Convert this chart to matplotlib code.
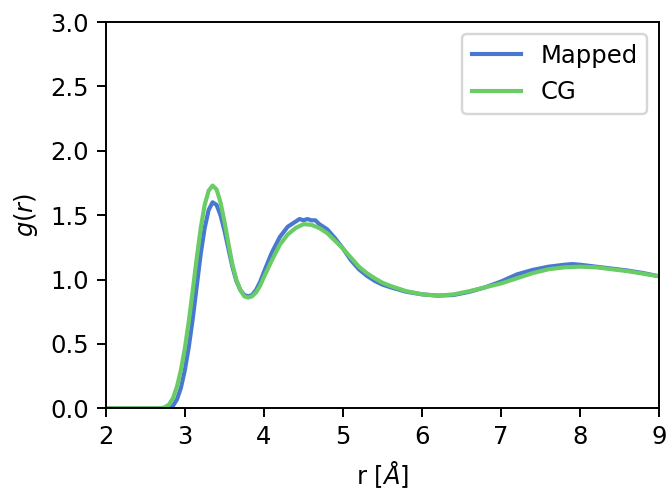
import matplotlib
matplotlib.use("Agg")
import matplotlib.pyplot as plt

# radial distribution functions
r_mapped = [2.0, 2.5, 2.8, 2.85, 2.9, 2.95, 3.0, 3.05, 3.1, 3.15, 3.2, 3.25, 3.3, 3.35,
            3.4, 3.45, 3.5, 3.55, 3.6, 3.65, 3.7, 3.75, 3.8, 3.85, 3.9, 3.95, 4.0,
            4.1, 4.2, 4.3, 4.4, 4.45, 4.5, 4.55, 4.6, 4.65, 4.7, 4.8, 4.9, 5.0, 5.1,
            5.2, 5.3, 5.4, 5.5, 5.6, 5.8, 6.0, 6.2, 6.4, 6.6, 6.8, 7.0, 7.2, 7.4,
            7.6, 7.8, 7.9, 8.0, 8.2, 8.4, 8.6, 8.8, 9.0]
g_mapped = [0.0, 0.0, 0.0, 0.02, 0.07, 0.16, 0.30, 0.48, 0.70, 0.95, 1.20, 1.40, 1.54, 1.60,
            1.58, 1.50, 1.38, 1.24, 1.10, 0.99, 0.92, 0.88, 0.87, 0.88, 0.92, 0.98, 1.06,
            1.21, 1.33, 1.41, 1.45, 1.47, 1.46, 1.47, 1.46, 1.46, 1.43, 1.39, 1.32, 1.24, 1.15,
            1.08, 1.03, 0.99, 0.96, 0.94, 0.905, 0.885, 0.875, 0.88, 0.905, 0.94, 0.985, 1.04, 1.075,
            1.10, 1.115, 1.12, 1.115, 1.10, 1.085, 1.07, 1.05, 1.025]

r_cg = [2.0, 2.7, 2.75, 2.8, 2.85, 2.9, 2.95, 3.0, 3.05, 3.1, 3.15, 3.2, 3.25, 3.3,
        3.35, 3.4, 3.45, 3.5, 3.55, 3.6, 3.65, 3.7, 3.75, 3.8, 3.85, 3.9, 3.95,
        4.0, 4.1, 4.2, 4.3, 4.4, 4.5, 4.6, 4.7, 4.8, 4.9, 5.0, 5.1, 5.2, 5.3, 5.4,
        5.5, 5.6, 5.8, 6.0, 6.2, 6.4, 6.6, 6.8, 7.0, 7.2, 7.4, 7.6, 7.8, 8.0, 8.2,
        8.4, 8.6, 8.8, 9.0]
g_cg = [0.0, 0.0, 0.01, 0.03, 0.08, 0.17, 0.30, 0.47, 0.68, 0.92, 1.17, 1.40, 1.58, 1.69,
        1.73, 1.70, 1.60, 1.45, 1.28, 1.12, 1.00, 0.92, 0.87, 0.86, 0.87, 0.90, 0.95,
        1.02, 1.15, 1.27, 1.35, 1.40, 1.43, 1.425, 1.40, 1.36, 1.30, 1.24, 1.17, 1.10, 1.05, 1.01,
        0.975, 0.95, 0.91, 0.885, 0.875, 0.885, 0.91, 0.94, 0.97, 1.01, 1.05, 1.08, 1.095, 1.10, 1.095,
        1.08, 1.065, 1.045, 1.025]

dpi = 175
fig, ax = plt.subplots(figsize=(670 / dpi, 489 / dpi), dpi=dpi)
fig.subplots_adjust(left=0.158, right=0.984, top=0.955, bottom=0.165)

ax.plot(r_mapped, g_mapped, color='#4878d0', lw=1.7, label='Mapped')
ax.plot(r_cg, g_cg, color='#6acc64', lw=1.7, label='CG')

ax.set_xlim(2, 9)
ax.set_ylim(0, 3)
ax.set_xlabel(r'r [$\AA$]')
ax.set_ylabel(r'$g(r)$')
ax.legend(loc='upper right')

fig.savefig('out.png', dpi=dpi)
